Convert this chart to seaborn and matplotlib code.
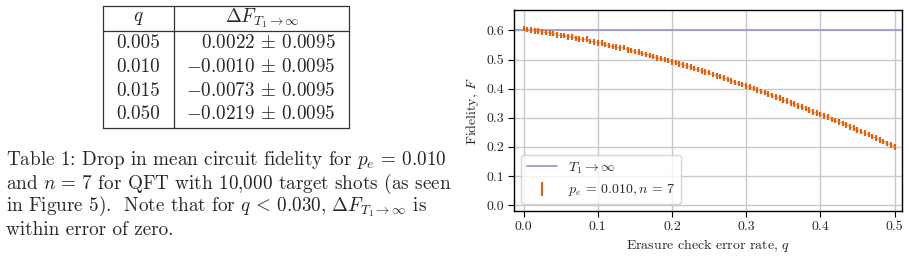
import numpy as np
import pandas as pd
import matplotlib
matplotlib.use("Agg")
import matplotlib.pyplot as plt
from matplotlib.lines import Line2D
import seaborn as sns

# table data
q_table = ["0.005", "0.010", "0.015", "0.050"]
dF_table = [r"$0.0022 \,\pm\, 0.0095$", r"$-0.0010 \,\pm\, 0.0095$",
            r"$-0.0073 \,\pm\, 0.0095$", r"$-0.0219 \,\pm\, 0.0095$"]

caption = [r"Table 1: Drop in mean circuit fidelity for $p_e \,=\, 0.010$",
           r"and $n \,=\, 7$ for QFT with 10,000 target shots (as seen",
           r"in Figure 5).  Note that for $q \,<\, 0.030$, $\Delta F_{T_1\to\infty}$ is",
           r"within error of zero."]

# plot data
q_rate = [0.000, 0.005, 0.010, 0.015, 0.020, 0.025, 0.030, 0.035, 0.040, 0.045,
          0.050, 0.055, 0.060, 0.065, 0.070, 0.075, 0.080, 0.085, 0.090, 0.095,
          0.100, 0.105, 0.110, 0.115, 0.120, 0.125, 0.130, 0.135, 0.140, 0.145,
          0.150, 0.155, 0.160, 0.165, 0.170, 0.175, 0.180, 0.185, 0.190, 0.195,
          0.200, 0.205, 0.210, 0.215, 0.220, 0.225, 0.230, 0.235, 0.240, 0.245,
          0.250, 0.255, 0.260, 0.265, 0.270, 0.275, 0.280, 0.285, 0.290, 0.295,
          0.300, 0.305, 0.310, 0.315, 0.320, 0.325, 0.330, 0.335, 0.340, 0.345,
          0.350, 0.355, 0.360, 0.365, 0.370, 0.375, 0.380, 0.385, 0.390, 0.395,
          0.400, 0.405, 0.410, 0.415, 0.420, 0.425, 0.430, 0.435, 0.440, 0.445,
          0.450, 0.455, 0.460, 0.465, 0.470, 0.475, 0.480, 0.485, 0.490, 0.495,
          0.500]
fidelity = [0.606, 0.603, 0.601, 0.598, 0.597, 0.595, 0.593, 0.591, 0.589, 0.585,
            0.583, 0.582, 0.578, 0.577, 0.572, 0.570, 0.568, 0.571, 0.562, 0.560,
            0.557, 0.556, 0.551, 0.548, 0.545, 0.543, 0.539, 0.542, 0.533, 0.531,
            0.527, 0.525, 0.520, 0.518, 0.514, 0.510, 0.505, 0.504, 0.500, 0.497,
            0.491, 0.490, 0.485, 0.482, 0.477, 0.474, 0.469, 0.465, 0.461, 0.458,
            0.455, 0.449, 0.444, 0.441, 0.436, 0.432, 0.427, 0.421, 0.418, 0.415,
            0.409, 0.406, 0.400, 0.396, 0.391, 0.387, 0.381, 0.377, 0.371, 0.367,
            0.361, 0.357, 0.351, 0.347, 0.341, 0.337, 0.332, 0.327, 0.320, 0.316,
            0.312, 0.307, 0.302, 0.294, 0.291, 0.286, 0.280, 0.276, 0.269, 0.265,
            0.258, 0.253, 0.247, 0.242, 0.235, 0.230, 0.224, 0.219, 0.212, 0.207,
            0.200]
err = 0.0095
t1_inf = 0.600

df = pd.DataFrame({"q": q_rate, "F": fidelity})

sns.set_style("whitegrid")
plt.rcParams["font.family"] = ["cmr10", "DejaVu Serif"]
plt.rcParams["mathtext.fontset"] = "cm"
plt.rcParams["axes.formatter.use_mathtext"] = True

W, H = 909, 257
fig = plt.figure(figsize=(W / 100, H / 100), dpi=100)

def fx(x):
    return x / W

def fy(y):
    return 1 - y / H

# table lines
tl, tr, tt, th, tb, tc = 103, 349, 6, 31, 128, 174
lines = [((tl, tr), (tt, tt)), ((tl, tr), (th, th)), ((tl, tr), (tb, tb)),
         ((tl, tl), (tt, tb)), ((tr, tr), (tt, tb)), ((tc, tc), (tt, tb))]
for xs, ys in lines:
    fig.add_artist(Line2D([fx(v) for v in xs], [fy(v) for v in ys],
                          transform=fig.transFigure, color="#333333", lw=0.9))

fs = 13.8
fig.text(fx(138), fy(18), r"$q$", ha="center", va="center", fontsize=fs)
fig.text(fx(262), fy(18), r"$\Delta F_{T_1\to\infty}$", ha="center", va="center", fontsize=fs)
row_y = [43, 67, 91, 114]
for qv, dv, yy in zip(q_table, dF_table, row_y):
    fig.text(fx(138), fy(yy), qv, ha="center", va="center", fontsize=fs)
    fig.text(fx(336), fy(yy), dv, ha="right", va="center", fontsize=fs)

cap_y = [160, 183, 207, 230]
for line, yy in zip(caption, cap_y):
    fig.text(fx(6), fy(yy), line, ha="left", va="center", fontsize=fs)

# chart
ax = fig.add_axes([fx(514), fy(211), fx(902 - 514), (211 - 10) / H])
ax.axhline(t1_inf, color="#9c9ad0", lw=1.3, label=r"$T_1 \to \infty$", zorder=2)
ax.errorbar(df["q"], df["F"], yerr=err, fmt="none", ecolor="#e2620f",
            elinewidth=1.5, label=r"$p_e \,=\, 0.010, n \,=\, 7$", zorder=3)
ax.plot(df["q"], df["F"], color="#f3b080", lw=1.0, zorder=2.5)

ax.set_xlim(-0.013, 0.51)
ax.set_ylim(-0.02, 0.67)
ax.set_xticks([0.0, 0.1, 0.2, 0.3, 0.4, 0.5])
ax.set_yticks([0.0, 0.1, 0.2, 0.3, 0.4, 0.5, 0.6])
ax.xaxis.set_major_formatter(matplotlib.ticker.FormatStrFormatter("%.1f"))
ax.yaxis.set_major_formatter(matplotlib.ticker.FormatStrFormatter("%.1f"))
ax.grid(True, color="#c8c8c8", lw=1.0)
for s in ax.spines.values():
    s.set_color("black")
    s.set_linewidth(1.0)
ax.tick_params(axis="both", labelsize=10, length=4, width=0.8, color="black",
               direction="out", left=True, bottom=True, pad=3)
ax.set_xlabel(r"Erasure check error rate, $q$", fontsize=10, labelpad=3)
ax.set_ylabel(r"Fidelity, $F$", fontsize=10, labelpad=4)
ax.legend(loc="lower left", fontsize=10, frameon=True, framealpha=0.8,
          borderaxespad=0.5, handlelength=2.2)

fig.savefig("out.png", dpi=100)
